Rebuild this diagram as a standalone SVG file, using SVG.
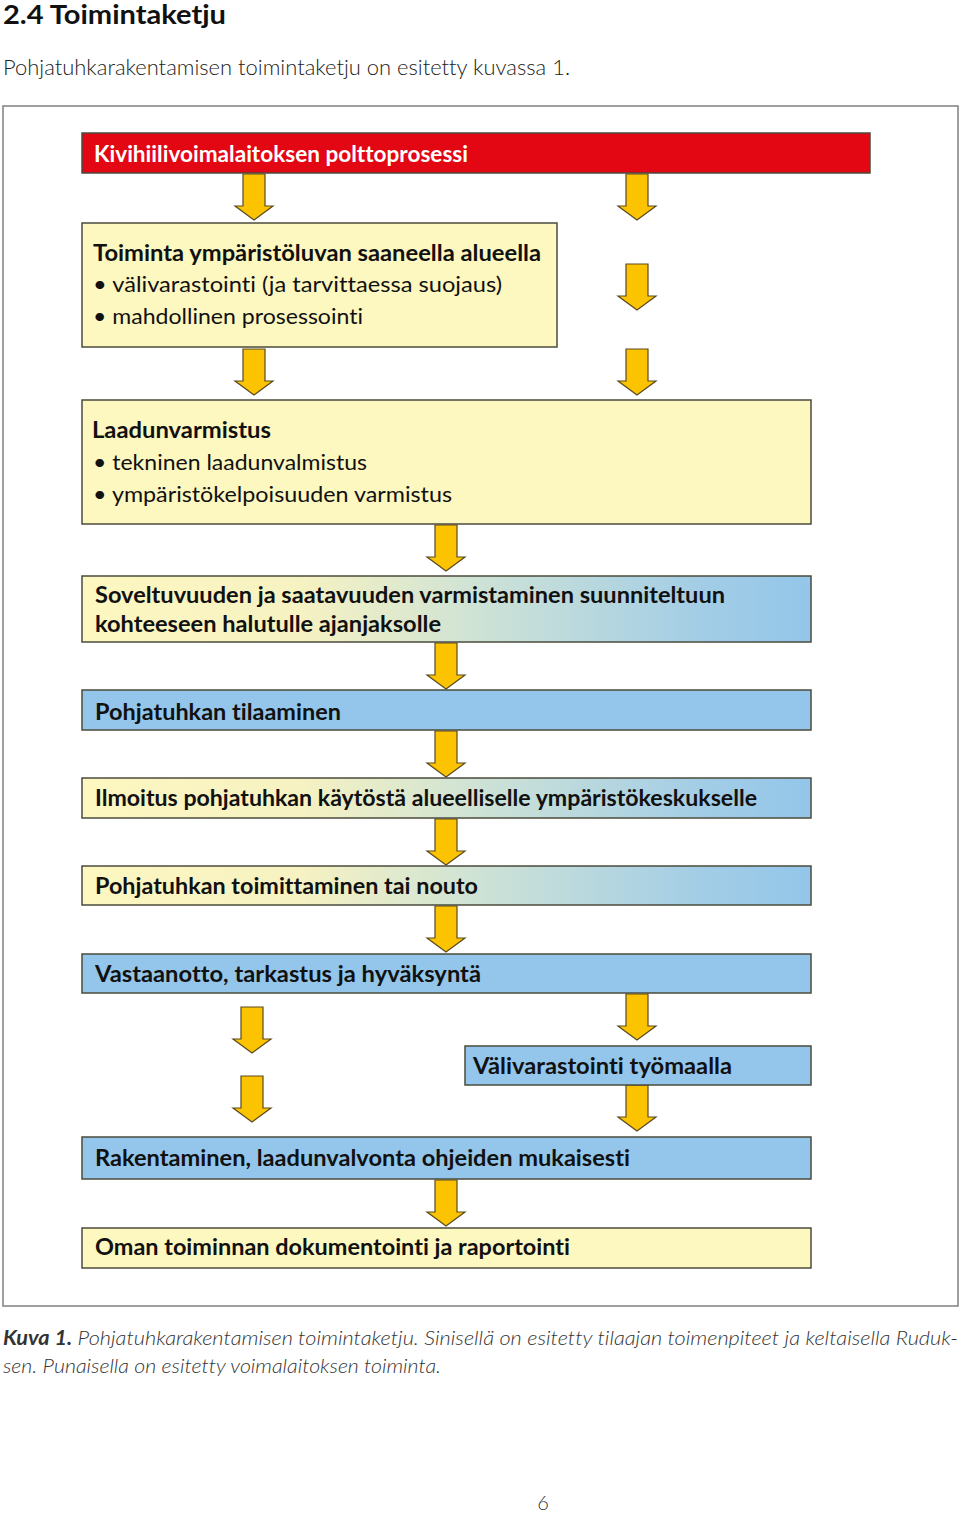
<svg xmlns="http://www.w3.org/2000/svg" width="960" height="1515" viewBox="0 0 960 1515">
<defs>
<linearGradient id="yb" x1="0" y1="0" x2="1" y2="0">
<stop offset="0" stop-color="#FDF7C0"/>
<stop offset="0.3" stop-color="#F6F2C2"/>
<stop offset="0.55" stop-color="#CDE2D6"/>
<stop offset="0.85" stop-color="#A3CDE6"/>
<stop offset="1" stop-color="#93C6EA"/>
</linearGradient>
<path id="arr" d="M-11,0 H11 V32 H19 L0,46 L-19,32 H-11 Z" fill="#FCC300" stroke="#5A4A20" stroke-width="1.2" stroke-linejoin="miter"/>
</defs>
<style>
text{font-variant-ligatures:none}
.box{stroke:#4B4B3C;stroke-width:1.5}
.yel{fill:#FDF7C0}
.blu{fill:#93C6EA}
.grd{fill:url(#yb)}
.red{fill:#E30613}
.t{font-family:Lato,"Open Sans","Liberation Sans",sans-serif;font-size:22px;fill:#111}
.b{font-weight:bold}
.w{fill:#fff}
.cap{font-family:Lato,"Open Sans","Liberation Sans",sans-serif;font-size:20px;fill:#333;font-style:italic;font-weight:300}
</style>
<rect width="960" height="1515" fill="#fff"/>
<text x="3" y="24" font-family="Lato,'Open Sans','Liberation Sans',sans-serif" font-size="26" font-weight="bold" fill="#111" textLength="223" lengthAdjust="spacingAndGlyphs">2.4  Toimintaketju</text>
<text x="3" y="75" font-family="Lato,'Open Sans','Liberation Sans',sans-serif" font-size="21" font-weight="300" fill="#222" textLength="567" lengthAdjust="spacingAndGlyphs">Pohjatuhkarakentamisen toimintaketju on esitetty kuvassa 1.</text>
<rect x="3" y="106" width="955" height="1200" fill="none" stroke="#808080" stroke-width="1.5"/>

<g id="connectors">
<use href="#arr" x="254" y="174"/>
<use href="#arr" x="637" y="174"/>
<use href="#arr" x="637" y="264"/>
<use href="#arr" x="637" y="349"/>
<use href="#arr" x="254" y="349"/>
<use href="#arr" x="446" y="525"/>
<use href="#arr" x="446" y="643"/>
<use href="#arr" x="446" y="731"/>
<use href="#arr" x="446" y="819"/>
<use href="#arr" x="446" y="906"/>
<use href="#arr" x="637" y="994"/>
<use href="#arr" x="252" y="1007"/>
<use href="#arr" x="252" y="1076"/>
<use href="#arr" x="637" y="1085"/>
<use href="#arr" x="446" y="1180"/>
</g>

<g id="n-red">
<rect class="box red" x="82" y="133" width="788" height="40"/>
<text class="t b w" x="94" y="162" textLength="374" lengthAdjust="spacingAndGlyphs">Kivihiilivoimalaitoksen polttoprosessi</text>
</g>
<g id="n-toiminta">
<rect class="box yel" x="82" y="223" width="475" height="124"/>
<text class="t b" x="93" y="261" textLength="448" lengthAdjust="spacingAndGlyphs">Toiminta ympäristöluvan saaneella alueella</text>
<text class="t" x="93" y="292" textLength="409" lengthAdjust="spacingAndGlyphs">• välivarastointi (ja tarvittaessa suojaus)</text>
<text class="t" x="93" y="324" textLength="270" lengthAdjust="spacingAndGlyphs">• mahdollinen prosessointi</text>
</g>
<g id="n-laatu">
<rect class="box yel" x="82" y="400" width="729" height="124"/>
<text class="t b" x="92" y="438" textLength="179" lengthAdjust="spacingAndGlyphs">Laadunvarmistus</text>
<text class="t" x="93" y="470" textLength="274" lengthAdjust="spacingAndGlyphs">• tekninen laadunvalmistus</text>
<text class="t" x="93" y="502" textLength="359" lengthAdjust="spacingAndGlyphs">• ympäristökelpoisuuden varmistus</text>
</g>
<g id="n-soveltuvuus">
<rect class="box grd" x="82" y="576" width="729" height="66"/>
<text class="t b" x="95" y="603" textLength="630" lengthAdjust="spacingAndGlyphs">Soveltuvuuden ja saatavuuden varmistaminen suunniteltuun</text>
<text class="t b" x="95" y="632" textLength="346" lengthAdjust="spacingAndGlyphs">kohteeseen halutulle ajanjaksolle</text>
</g>
<g id="n-tilaaminen">
<rect class="box blu" x="82" y="690" width="729" height="40"/>
<text class="t b" x="95" y="720" textLength="246" lengthAdjust="spacingAndGlyphs">Pohjatuhkan tilaaminen</text>
</g>
<g id="n-ilmoitus">
<rect class="box grd" x="82" y="778" width="729" height="40"/>
<text class="t b" x="95" y="806" textLength="662" lengthAdjust="spacingAndGlyphs">Ilmoitus pohjatuhkan käytöstä alueelliselle ympäristökeskukselle</text>
</g>
<g id="n-toimitus">
<rect class="box grd" x="82" y="866" width="729" height="39"/>
<text class="t b" x="95" y="894" textLength="383" lengthAdjust="spacingAndGlyphs">Pohjatuhkan toimittaminen tai nouto</text>
</g>
<g id="n-vastaanotto">
<rect class="box blu" x="82" y="954" width="729" height="39"/>
<text class="t b" x="95" y="982" textLength="386" lengthAdjust="spacingAndGlyphs">Vastaanotto, tarkastus ja hyväksyntä</text>
</g>
<g id="n-valivarastointi">
<rect class="box blu" x="465" y="1046" width="346" height="39"/>
<text class="t b" x="473" y="1074" textLength="259" lengthAdjust="spacingAndGlyphs">Välivarastointi työmaalla</text>
</g>
<g id="n-rakentaminen">
<rect class="box blu" x="82" y="1137" width="729" height="42"/>
<text class="t b" x="95" y="1166" textLength="535" lengthAdjust="spacingAndGlyphs">Rakentaminen, laadunvalvonta ohjeiden mukaisesti</text>
</g>
<g id="n-dokumentointi">
<rect class="box yel" x="82" y="1228" width="729" height="40"/>
<text class="t b" x="95" y="1255" textLength="475" lengthAdjust="spacingAndGlyphs">Oman toiminnan dokumentointi ja raportointi</text>
</g>

<text class="cap" x="3" y="1345" textLength="955" lengthAdjust="spacingAndGlyphs"><tspan font-weight="bold">Kuva 1.</tspan>  Pohjatuhkarakentamisen toimintaketju. Sinisellä on esitetty tilaajan toimenpiteet ja keltaisella Ruduk-</text>
<text class="cap" x="3" y="1373" textLength="438" lengthAdjust="spacingAndGlyphs">sen. Punaisella on esitetty voimalaitoksen toiminta.</text>
<text x="543" y="1510" text-anchor="middle" font-family="Lato,'Open Sans','Liberation Sans',sans-serif" font-size="20" font-weight="300" fill="#333">6</text>
</svg>
